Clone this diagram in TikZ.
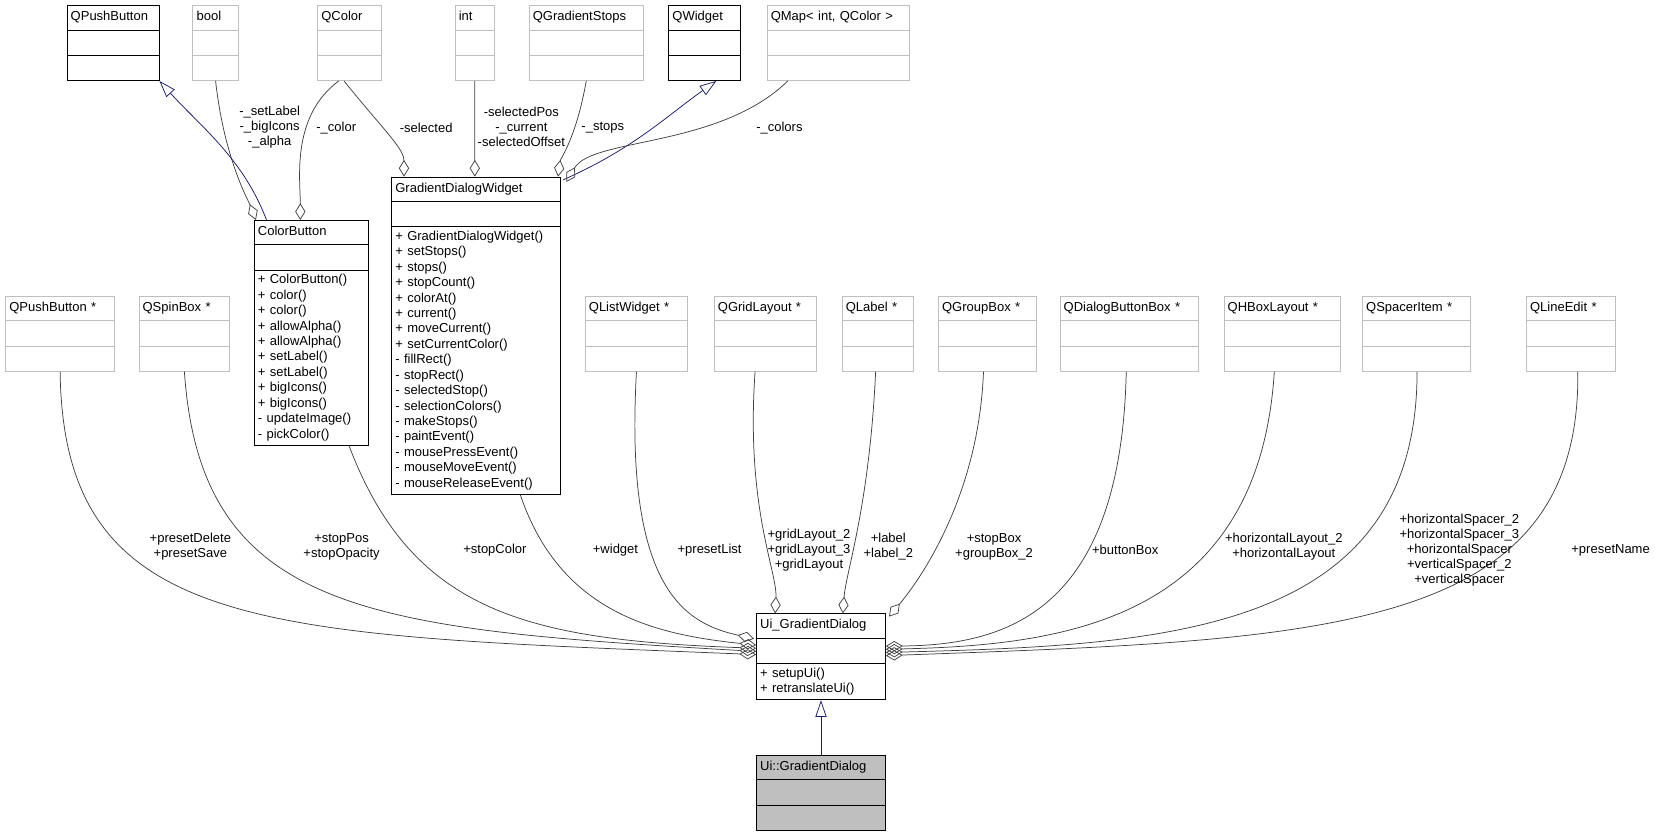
\documentclass[tikz,border=0pt]{standalone}
\usepackage{fontspec}
\setmainfont{Liberation Sans}
\usetikzlibrary{shapes.multipart,arrows.meta,calc}
\definecolor{edgegray}{HTML}{404040}
\definecolor{boxgray}{HTML}{BFBFBF}
\definecolor{navyline}{HTML}{191970}
\newcommand{\blankpart}{\rule{0pt}{8.8pt}}
\newcommand{\clstitle}[1]{\centering\strut #1}
\begin{document}
\begin{tikzpicture}[
        x=0.02cm, y=-0.02cm,
        cls/.style={rectangle split, rectangle split parts=3, draw=black, anchor=north west,
            text width=#1, inner xsep=2pt, inner ysep=2.2pt,
            font=\fontsize{7}{8.3}\selectfont},
        ext/.style={cls=#1, draw=boxgray},
        lbl/.style={font=\fontsize{7}{8.1}\selectfont, align=center, inner sep=0pt},
        agg/.style={draw=edgegray, -{Diamond[open,length=9pt,width=5.5pt]}},
        inh/.style={draw=navyline, -{Triangle[open,length=9pt,width=6pt]}}
    ]
    \useasboundingbox (0,0) rectangle (1565,791);

    % Top row
    \node[cls=1.60cm] (qpb) at (63,5) {\clstitle{QPushButton}\nodepart{two}\blankpart\nodepart{three}\blankpart};
    \node[ext=0.72cm] (qbool) at (182,5) {\clstitle{bool}\nodepart{two}\blankpart\nodepart{three}\blankpart};
    \node[ext=1.06cm] (qcolor) at (300,5) {\clstitle{QColor}\nodepart{two}\blankpart\nodepart{three}\blankpart};
    \node[ext=0.60cm] (qint) at (430,5) {\clstitle{int}\nodepart{two}\blankpart\nodepart{three}\blankpart};
    \node[ext=2.02cm] (qgstops) at (500,5) {\clstitle{QGradientStops}\nodepart{two}\blankpart\nodepart{three}\blankpart};
    \node[cls=1.22cm] (qwidget) at (632,5) {\clstitle{QWidget}\nodepart{two}\blankpart\nodepart{three}\blankpart};
    \node[ext=2.56cm] (qmap) at (725,5) {\clstitle{QMap< int, QColor >}\nodepart{two}\blankpart\nodepart{three}\blankpart};

    % Middle classes
    \node[cls=2.02cm] (colorbtn) at (240,208) {\clstitle{ColorButton}\nodepart{two}\blankpart\nodepart{three}\raggedright
        + ColorButton()\\+ color()\\+ color()\\+ allowAlpha()\\+ allowAlpha()\\+ setLabel()\\+ setLabel()\\+ bigIcons()\\+ bigIcons()\\- updateImage()\\- pickColor()};
    \node[cls=3.06cm] (gdw) at (370,167) {\clstitle{GradientDialogWidget}\nodepart{two}\blankpart\nodepart{three}\raggedright
        + GradientDialogWidget()\\+ setStops()\\+ stops()\\+ stopCount()\\+ colorAt()\\+ current()\\+ moveCurrent()\\+ setCurrentColor()\\- fillRect()\\- stopRect()\\- selectedStop()\\- selectionColors()\\- makeStops()\\- paintEvent()\\- mousePressEvent()\\- mouseMoveEvent()\\- mouseReleaseEvent()};

    % Member types
    \node[ext=1.92cm] (qpbp) at (5,280) {\clstitle{QPushButton *}\nodepart{two}\blankpart\nodepart{three}\blankpart};
    \node[ext=1.58cm] (qspin) at (131,280) {\clstitle{QSpinBox *}\nodepart{two}\blankpart\nodepart{three}\blankpart};
    \node[ext=1.80cm] (qlist) at (553,280) {\clstitle{QListWidget *}\nodepart{two}\blankpart\nodepart{three}\blankpart};
    \node[ext=1.80cm] (qgrid) at (675,280) {\clstitle{QGridLayout *}\nodepart{two}\blankpart\nodepart{three}\blankpart};
    \node[ext=1.20cm] (qlabel) at (796,280) {\clstitle{QLabel *}\nodepart{two}\blankpart\nodepart{three}\blankpart};
    \node[ext=1.72cm] (qgroup) at (887,280) {\clstitle{QGroupBox *}\nodepart{two}\blankpart\nodepart{three}\blankpart};
    \node[ext=2.48cm] (qdbb) at (1002,280) {\clstitle{QDialogButtonBox *}\nodepart{two}\blankpart\nodepart{three}\blankpart};
    \node[ext=2.06cm] (qhbox) at (1157,280) {\clstitle{QHBoxLayout *}\nodepart{two}\blankpart\nodepart{three}\blankpart};
    \node[ext=1.90cm] (qspacer) at (1288,280) {\clstitle{QSpacerItem *}\nodepart{two}\blankpart\nodepart{three}\blankpart};
    \node[ext=1.54cm] (qline) at (1443,280) {\clstitle{QLineEdit *}\nodepart{two}\blankpart\nodepart{three}\blankpart};

    % Dialog classes
    \node[cls=2.30cm] (ui) at (715,580) {\clstitle{Ui\_GradientDialog}\nodepart{two}\blankpart\nodepart{three}\raggedright
        + setupUi()\\+ retranslateUi()};
    \node[cls=2.30cm, fill=boxgray] (uid) at (715,714) {\clstitle{Ui::GradientDialog}\nodepart{two}\blankpart\nodepart{three}\blankpart};

    % Top edges
    \draw[agg] (qbool.south) .. controls (212,150) and (235,190) .. ($(colorbtn.north west)+(2,0)$);
    \draw[agg] ($(qcolor.south)+(-10,0)$) .. controls (275,110) and (284,170) .. ($(colorbtn.north west)+(44,0)$);
    \draw[inh] ($(colorbtn.north west)+(12,0)$) .. controls (230,150) and (190,120) .. ($(qpb.south east)$);
    \draw[agg] ($(qcolor.south)+(-5,0)$) .. controls (360,120) and (382,140) .. ($(gdw.north west)+(12,0)$);
    \draw[agg] (qint.south) -- ($(gdw.north west)+(79,0)$);
    \draw[agg] (qgstops.south) .. controls (545,130) and (530,150) .. ($(gdw.north east)+(-3,0)$);
    \draw[inh] ($(gdw.north east)+(2,3)$) .. controls (600,140) and (630,110) .. ($(qwidget.south)+(11,0)$);
    \draw[agg] ($(qmap.south west)+(20,0)$) .. controls (680,140) and (560,130) .. ($(gdw.north east)+(5,5)$);
    \node[lbl] (l-bool) at (255,120) {-\_setLabel\\-\_bigIcons\\-\_alpha};
    \node[lbl] (l-color) at (318,121) {-\_color};
    \node[lbl] (l-sel) at (403,121) {-selected};
    \node[lbl] (l-int) at (493,120) {-selectedPos\\-\_current\\-selectedOffset};
    \node[lbl] (l-stops) at (570,121) {-\_stops};
    \node[lbl] (l-colors) at (737,121) {-\_colors};

    % Bottom edges
    \draw[agg] (qpbp.south) .. controls (60,600) and (250,600) .. ($(ui.north west)+(0,39)$);
    \draw[agg] (qspin.south) .. controls (190,580) and (350,595) .. ($(ui.north west)+(0,36)$);
    \draw[agg] ($(colorbtn.south west)+(90,0)$) .. controls (390,580) and (500,605) .. ($(ui.north west)+(0,33)$);
    \draw[agg] ($(gdw.south west)+(122,0)$) .. controls (530,580) and (620,600) .. ($(ui.north west)+(0,30)$);
    \draw[agg] (qlist.south) .. controls (590,560) and (650,590) .. ($(ui.north west)+(-2,24)$);
    \draw[agg] ($(qgrid.south west)+(39,0)$) .. controls (705,480) and (735,540) .. ($(ui.north west)+(18,0)$);
    \draw[agg] ($(qlabel.south west)+(32,0)$) .. controls (822,480) and (800,540) .. ($(ui.north west)+(82,0)$);
    \draw[agg] ($(qgroup.south west)+(43,0)$) .. controls (925,480) and (860,560) .. ($(ui.north east)+(3,3)$);
    \draw[agg] ($(qdbb.south west)+(63,0)$) .. controls (1060,580) and (950,610) .. ($(ui.north east)+(0,31)$);
    \draw[agg] ($(qhbox.south west)+(48,0)$) .. controls (1190,590) and (1000,610) .. ($(ui.north east)+(0,34)$);
    \draw[agg] ($(qspacer.south west)+(52,0)$) .. controls (1340,600) and (1100,610) .. ($(ui.north east)+(0,37)$);
    \draw[agg] ($(qline.south west)+(49,0)$) .. controls (1495,600) and (1250,605) .. ($(ui.north east)+(0,40)$);
    \node[lbl] (l-pbp) at (180,517) {+presetDelete\\+presetSave};
    \node[lbl] (l-spin) at (323,517) {+stopPos\\+stopOpacity};
    \node[lbl] (l-cbtn) at (468,520) {+stopColor};
    \node[lbl] (l-gdw) at (582,520) {+widget};
    \node[lbl] (l-list) at (671,520) {+presetList};
    \node[lbl] (l-grid) at (765,520) {+gridLayout\_2\\+gridLayout\_3\\+gridLayout};
    \node[lbl] (l-label) at (840,517) {+label\\+label\_2};
    \node[lbl] (l-group) at (940,517) {+stopBox\\+groupBox\_2};
    \node[lbl] (l-dbb) at (1064,520) {+buttonBox};
    \node[lbl] (l-hbox) at (1214,517) {+horizontalLayout\_2\\+horizontalLayout};
    \node[lbl] (l-spacer) at (1380,520) {+horizontalSpacer\_2\\+horizontalSpacer\_3\\+horizontalSpacer\\+verticalSpacer\_2\\+verticalSpacer};
    \node[lbl] (l-line) at (1523,520) {+presetName};

    \draw[inh] (uid.north) -- (ui.south);
\end{tikzpicture}
\end{document}
